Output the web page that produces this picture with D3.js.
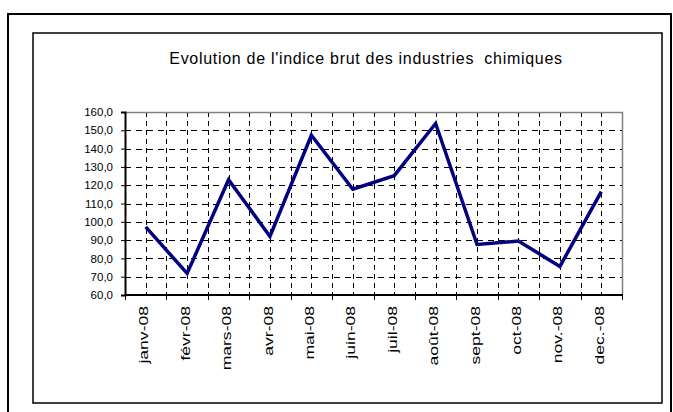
<!DOCTYPE html>
<html>
<head>
<meta charset="utf-8">
<script src="https://cdn.jsdelivr.net/npm/d3@7"></script>
<style>
  body { margin: 0; background: #fff; }
  svg { display: block; font-family: "Liberation Sans", Arial, sans-serif; }
</style>
</head>
<body>
<div id="chart"></div>
<script>
// data
var months = ['janv-08', 'févr-08', 'mars-08', 'avr-08', 'mai-08', 'juin-08',
              'juil-08', 'août-08', 'sept-08', 'oct-08', 'nov.-08', 'dec.-08']
var indice = [97.2, 71.8, 123.0, 92.0, 147.3, 117.8, 125.2, 153.7, 87.6, 89.5, 75.6, 116.5]
var yTicks = [60, 70, 80, 90, 100, 110, 120, 130, 140, 150, 160]
var title = "Evolution de l'indice brut des industries  chimiques"

var W = 673, H = 412
var plot = {left: 125, right: 622, top: 112, bottom: 295}

var svg = d3.select('#chart').append('svg')
    .attr('width', W)
    .attr('height', H)

// outer frame + chart box
svg.append('rect')
    .attr('x', 8).attr('y', 14)
    .attr('width', 663).attr('height', 420)
    .attr('fill', 'none').attr('stroke', '#000').attr('stroke-width', 2)
svg.append('rect')
    .attr('x', 33).attr('y', 33)
    .attr('width', 629).attr('height', 370)
    .attr('fill', '#fff').attr('stroke', '#000').attr('stroke-width', 1.5)

svg.append('text')
    .attr('x', 366).attr('y', 64)
    .attr('text-anchor', 'middle')
    .attr('font-size', 16)
    .attr('letter-spacing', 0.7)
    .style('white-space', 'pre')
    .text(title)

var x = d3.scaleBand().domain(months).range([plot.left, plot.right])
var y = d3.scaleLinear().domain([60, 160]).range([plot.bottom, plot.top])

// gridlines: horizontal every 10, vertical at category edges and centres
var grid = svg.append('g').attr('stroke', '#000').attr('stroke-width', 1)
grid.selectAll('.hg').data(yTicks.slice(1, -1)).enter().append('line')
    .attr('x1', plot.left).attr('x2', plot.right)
    .attr('y1', d => Math.round(y(d)) + 0.5).attr('y2', d => Math.round(y(d)) + 0.5)
    .attr('stroke-dasharray', '6,5')
var vPos = []
months.forEach(function(m, i) {
    if (i > 0) vPos.push(x(m))
    vPos.push(x(m) + x.bandwidth() / 2)
})
grid.selectAll('.vg').data(vPos).enter().append('line')
    .attr('x1', d => Math.round(d) + 0.5).attr('x2', d => Math.round(d) + 0.5)
    .attr('y1', plot.top).attr('y2', plot.bottom)
    .attr('stroke-dasharray', '5,4')

// plot area border (top / right in grey)
svg.append('path')
    .attr('d', `M${plot.left},${plot.top + 0.5}H${plot.right + 0.5}V${plot.bottom}`)
    .attr('fill', 'none').attr('stroke', '#808080').attr('stroke-width', 1.5)

// y axis
var yAxis = svg.append('g')
    .attr('transform', `translate(${plot.left},0)`)
    .call(d3.axisLeft(y).tickValues(yTicks).tickSize(4).tickPadding(8)
        .tickFormat(d => d3.format('.1f')(d).replace('.', ',')))
yAxis.select('.domain').attr('stroke-width', 2)
yAxis.selectAll('.tick line').attr('stroke-width', 1)
yAxis.selectAll('text').attr('font-size', 11.5).attr('font-family', '"Liberation Sans", Arial, sans-serif').attr('fill', '#000')

// x axis: ticks on category edges
var xAxis = svg.append('g')
    .attr('transform', `translate(0,${plot.bottom})`)
xAxis.append('line')
    .attr('x1', plot.left).attr('x2', plot.right + 1)
    .attr('stroke', '#000').attr('stroke-width', 2)
xAxis.selectAll('.xt').data(months.concat(['end'])).enter().append('line')
    .attr('x1', (d, i) => Math.round(plot.left + i * x.bandwidth()) + 0.5)
    .attr('x2', (d, i) => Math.round(plot.left + i * x.bandwidth()) + 0.5)
    .attr('y1', 0).attr('y2', 5)
    .attr('stroke', '#000')
xAxis.selectAll('.xl').data(months).enter().append('text')
    .attr('transform', d => `translate(${x(d) + x.bandwidth() / 2 - 2},11) rotate(-90) scale(1.35,1)`)
    .attr('text-anchor', 'end')
    .attr('dy', '0.35em')
    .attr('font-size', 13)
    .text(d => d)

// series line
var line = d3.line()
    .x((d, i) => x(months[i]) + x.bandwidth() / 2)
    .y(d => y(d))
svg.append('path')
    .datum(indice)
    .attr('d', line)
    .attr('fill', 'none')
    .attr('stroke', '#000080')
    .attr('stroke-width', 3.5)
    .attr('stroke-linejoin', 'miter')
</script>
</body>
</html>
